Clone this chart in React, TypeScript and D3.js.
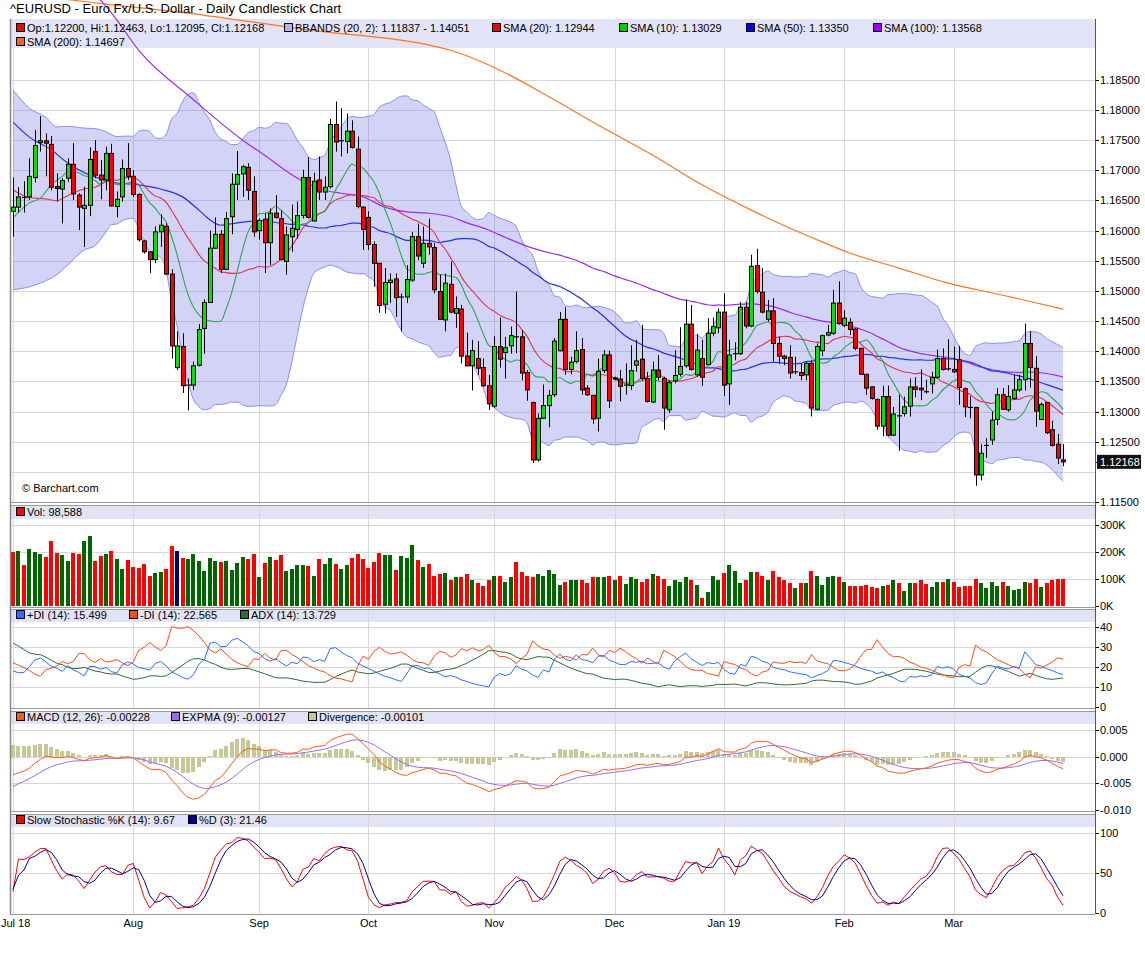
import React from "react";
import * as d3 from "d3";

// ---------- DATA ----------
const opens = [
1.1632,1.1639,1.1655,1.1656,1.1688,1.1746,1.1749,1.1743,1.1673,1.1669,
1.1687,1.1710,1.1659,1.1637,1.1642,1.1731,1.1692,1.1684,1.1728,1.1640,
1.1656,1.1703,1.1690,1.1660,1.1583,1.1565,1.1552,1.1598,1.1607,1.1528,
1.1373,1.1408,1.1344,1.1344,1.1377,1.1438,1.1481,1.1571,1.1594,1.1536,
1.1623,1.1677,1.1694,1.1705,1.1665,1.1600,1.1619,1.1580,1.1629,1.1620,
1.1549,1.1590,1.1602,1.1625,1.1688,1.1616,1.1684,1.1664,1.1673,1.1776,
1.1749,1.1748,1.1765,1.1735,1.1639,1.1622,1.1577,1.1546,1.1478,1.1514,
1.1520,1.1490,1.1490,1.1518,1.1590,1.1546,1.1579,1.1572,1.1499,1.1452,
1.1511,1.1463,1.1470,1.1392,1.1376,1.1388,1.1373,1.1343,1.1309,1.1408,
1.1398,1.1409,1.1424,1.1424,1.1365,1.1315,1.1220,1.1289,1.1310,1.1328,
1.1401,1.1453,1.1370,1.1383,1.1403,1.1339,1.1327,1.1289,1.1368,1.1394,
1.1356,1.1354,1.1344,1.1343,1.1377,1.1387,1.1355,1.1316,1.1369,1.1355,
1.1303,1.1351,1.1362,1.1376,1.1445,1.1361,1.1388,1.1378,1.1430,1.1439,
1.1465,1.1346,1.1396,1.1396,1.1473,1.1442,1.1542,1.1498,1.1453,1.1467,
1.1413,1.1392,1.1390,1.1366,1.1365,1.1361,1.1380,1.1304,1.1401,1.1427,
1.1430,1.1480,1.1443,1.1448,1.1437,1.1405,1.1362,1.1341,1.1320,1.1276,
1.1325,1.1261,1.1293,1.1297,1.1309,1.1341,1.1339,1.1333,1.1346,1.1357,
1.1388,1.1371,1.1370,1.1386,1.1338,1.1307,1.1307,1.1195,1.1244,1.1253,
1.1287,1.1328,1.1303,1.1322,1.1336,1.1353,1.1413,1.1372,1.1287,1.1315,
1.1270,1.1246,1.12200];
const highs = [
1.1688,1.1672,1.1682,1.1720,1.1767,1.1790,1.1761,1.1757,1.1695,1.1687,
1.1720,1.1745,1.1662,1.1673,1.1738,1.1750,1.1717,1.1739,1.1744,1.1665,
1.1718,1.1745,1.1700,1.1662,1.1585,1.1566,1.1607,1.1627,1.1612,1.1536,
1.1433,1.1430,1.1355,1.1383,1.1445,1.1486,1.1600,1.1622,1.1601,1.1631,
1.1695,1.1732,1.1709,1.1712,1.1690,1.1620,1.1629,1.1637,1.1659,1.1634,
1.1607,1.1643,1.1648,1.1701,1.1722,1.1696,1.1723,1.1690,1.1785,1.1814,
1.1803,1.1794,1.1783,1.1756,1.1640,1.1632,1.1582,1.1546,1.1538,1.1529,
1.1529,1.1496,1.1543,1.1598,1.1612,1.1607,1.1620,1.1579,1.1527,1.1529,
1.1549,1.1491,1.1477,1.1431,1.1419,1.1417,1.1388,1.1361,1.1425,1.1456,
1.1424,1.1441,1.1499,1.1435,1.1369,1.1317,1.1297,1.1345,1.1336,1.1422,
1.1465,1.1473,1.1391,1.1433,1.1422,1.1344,1.1328,1.1388,1.1402,1.1401,
1.1358,1.1369,1.1380,1.1410,1.1419,1.1444,1.1366,1.1383,1.1394,1.1358,
1.1352,1.1402,1.1440,1.1486,1.1477,1.1429,1.1419,1.1455,1.1456,1.1471,
1.1496,1.1419,1.1415,1.1482,1.1482,1.1560,1.1570,1.1538,1.1485,1.1488,
1.1424,1.1394,1.1410,1.1391,1.1380,1.1383,1.1386,1.1413,1.1428,1.1444,
1.1502,1.1516,1.1468,1.1455,1.1438,1.1405,1.1362,1.1342,1.1322,1.1343,
1.1343,1.1308,1.1328,1.1325,1.1355,1.1357,1.1370,1.1353,1.1366,1.1403,
1.1405,1.1420,1.1408,1.1409,1.1340,1.1326,1.1308,1.1246,1.1256,1.1300,
1.1339,1.1339,1.1344,1.1361,1.1361,1.1446,1.1433,1.1392,1.1315,1.1315,
1.1285,1.1263,1.12463];
const lows = [
1.1590,1.1630,1.1630,1.1651,1.1680,1.1731,1.1690,1.1667,1.1648,1.1612,
1.1681,1.1651,1.1601,1.1573,1.1624,1.1687,1.1652,1.1667,1.1640,1.1622,
1.1648,1.1684,1.1656,1.1582,1.1562,1.1530,1.1546,1.1573,1.1527,1.1388,
1.1369,1.1331,1.1302,1.1336,1.1375,1.1396,1.1480,1.1570,1.1530,1.1535,
1.1594,1.1651,1.1656,1.1651,1.1590,1.1585,1.1530,1.1543,1.1620,1.1551,
1.1527,1.1565,1.1587,1.1620,1.1620,1.1615,1.1651,1.1651,1.1670,1.1731,
1.1723,1.1728,1.1736,1.1637,1.1568,1.1568,1.1507,1.1464,1.1463,1.1480,
1.1457,1.1433,1.1480,1.1515,1.1551,1.1538,1.1560,1.1496,1.1452,1.1433,
1.1463,1.1439,1.1380,1.1375,1.1335,1.1361,1.1341,1.1303,1.1306,1.1373,
1.1355,1.1396,1.1397,1.1352,1.1318,1.1215,1.1217,1.1288,1.1274,1.1324,
1.1400,1.1361,1.1362,1.1380,1.1328,1.1326,1.1280,1.1267,1.1364,1.1306,
1.1352,1.1317,1.1328,1.1336,1.1366,1.1352,1.1315,1.1314,1.1352,1.1270,
1.1298,1.1347,1.1358,1.1373,1.1368,1.1358,1.1343,1.1377,1.1425,1.1430,
1.1326,1.1311,1.1385,1.1394,1.1438,1.1440,1.1496,1.1463,1.1449,1.1383,
1.1379,1.1377,1.1355,1.1362,1.1352,1.1352,1.1292,1.1302,1.1392,1.1425,
1.1427,1.1444,1.1440,1.1427,1.1402,1.1361,1.1328,1.1320,1.1270,1.1259,
1.1259,1.1260,1.1235,1.1292,1.1292,1.1324,1.1319,1.1330,1.1330,1.1355,
1.1368,1.1368,1.1364,1.1311,1.1291,1.1289,1.1177,1.1186,1.1223,1.1245,
1.1278,1.1303,1.1300,1.1320,1.1333,1.1335,1.1340,1.1275,1.1286,1.1263,
1.1242,1.1213,1.12095];
const closes = [
1.1639,1.1656,1.1655,1.1690,1.1741,1.1749,1.1745,1.1672,1.1670,1.1683,
1.1710,1.1661,1.1639,1.1642,1.1718,1.1692,1.1684,1.1728,1.1641,1.1652,
1.1703,1.1690,1.1660,1.1585,1.1565,1.1552,1.1598,1.1609,1.1528,1.1409,
1.1409,1.1343,1.1344,1.1376,1.1436,1.1481,1.1571,1.1594,1.1536,1.1620,
1.1677,1.1693,1.1706,1.1667,1.1598,1.1617,1.1580,1.1629,1.1622,1.1552,
1.1593,1.1604,1.1625,1.1688,1.1622,1.1682,1.1664,1.1672,1.1776,1.1747,
1.1749,1.1765,1.1738,1.1640,1.1602,1.1577,1.1546,1.1476,1.1514,1.1518,
1.1489,1.1490,1.1519,1.1590,1.1558,1.1579,1.1573,1.1502,1.1453,1.1513,
1.1465,1.1471,1.1392,1.1376,1.1401,1.1372,1.1343,1.1313,1.1408,1.1387,
1.1406,1.1426,1.1424,1.1364,1.1336,1.1220,1.1289,1.1310,1.1327,1.1417,
1.1453,1.1370,1.1382,1.1401,1.1336,1.1328,1.1288,1.1367,1.1394,1.1318,
1.1354,1.1342,1.1344,1.1368,1.1384,1.1355,1.1317,1.1369,1.1357,1.1306,
1.1348,1.1360,1.1375,1.1445,1.1370,1.1402,1.1357,1.1430,1.1441,1.1465,
1.1344,1.1394,1.1396,1.1473,1.1442,1.1541,1.1499,1.1465,1.1467,1.1413,
1.1392,1.1388,1.1364,1.1366,1.1360,1.1380,1.1306,1.1408,1.1426,1.1431,
1.1480,1.1446,1.1455,1.1436,1.1405,1.1362,1.1339,1.1322,1.1276,1.1325,
1.1261,1.1296,1.1293,1.1308,1.1341,1.1337,1.1336,1.1333,1.1357,1.1388,
1.1370,1.1371,1.1366,1.1340,1.1308,1.1307,1.1195,1.1231,1.1244,1.1286,
1.1328,1.1304,1.1325,1.1336,1.1353,1.1413,1.1373,1.1301,1.1312,1.1265,
1.1244,1.1223,1.12168];
// volume in thousands
const volumesK = [
199,202,150,210,199,191,180,240,195,187,
165,195,191,240,259,165,184,191,202,172,
135,169,142,139,154,109,120,124,135,221,
202,176,172,191,165,127,176,165,161,165,
131,157,180,172,191,105,157,180,169,187,
127,135,150,150,146,112,172,154,176,154,
135,150,176,191,172,139,161,195,187,187,
131,184,176,225,169,142,154,112,116,120,
97,105,105,116,94,86,75,97,112,109,
90,105,161,124,109,105,116,112,131,116,
79,90,97,97,97,86,105,105,105,109,
97,109,82,105,101,90,101,116,109,101,
75,94,90,105,97,79,30,52,112,94,
120,150,127,86,97,124,124,112,94,127,
105,97,86,67,86,86,127,112,79,105,
109,105,90,75,75,75,79,71,67,75,
79,97,86,56,86,86,94,82,71,90,
90,101,90,71,75,75,101,86,67,90,
75,90,75,60,64,90,86,101,71,86,
94,101,98.6];

// overlay values read where the chart needs history from before its first bar
const bbEarlyIdx = [0, 3, 6, 8, 10, 13, 15, 17, 18];
const bbUpperEarly = [1.1833, 1.1803, 1.1788, 1.1772, 1.1773, 1.1770, 1.1769, 1.1764, 1.1759];
const bbLowerEarly = [1.1502, 1.1507, 1.1517, 1.1527, 1.1543, 1.1568, 1.1575, 1.1598, 1.1610];
const sma10EarlyIdx = [0, 3, 5, 7];
const sma10Early = [1.1621, 1.1646, 1.1654, 1.1676];
const sma50EarlyIdx = [0, 3, 7, 10, 14, 17, 19, 23, 27, 31, 34, 36, 38, 41, 46];
const sma50Early = [1.1780, 1.1755, 1.1734, 1.1712, 1.1692, 1.1684, 1.1679, 1.1676, 1.1669, 1.1656, 1.1634, 1.1618, 1.1609, 1.1613, 1.1616];
const sma100EarlyIdx = [0, 8, 16, 18, 23, 33, 42, 46, 52, 57, 60, 64, 68, 72, 76, 80, 83, 87, 89, 95];
const sma100Early = [1.2060, 1.2020, 1.1982, 1.1961, 1.1899, 1.1817, 1.1750, 1.1725, 1.1687, 1.1667, 1.1662, 1.1656, 1.1639, 1.1631, 1.1629, 1.1623, 1.1613, 1.1601, 1.1593, 1.1571];
const sma200Idx = [0, 11, 35, 53, 80, 89, 98, 107, 117, 126, 135, 147, 153, 162, 171, 181, 192];
const sma200Vals = [1.1996, 1.1982, 1.1957, 1.1934, 1.1899, 1.1866, 1.1822, 1.1775, 1.1725, 1.1676, 1.1634, 1.1585, 1.1563, 1.1538, 1.1513, 1.1493, 1.1470];
const macdStart = { ema12: 1.1640, ema26: 1.1674, signal: -0.0056 };
const dmiStart = { atr: 0.0065, plusDI: 18, minusDI: 22, adx: 32 };
const stochStart = { k: 27, d: 30 };

const holidays = ["2018-12-25", "2019-01-01"];
const monthLabels = ["Jul 18", "Aug", "Sep", "Oct", "Nov", "Dec", "Jan 19", "Feb", "Mar"];
const priceTicks = [1.185, 1.18, 1.175, 1.17, 1.165, 1.16, 1.155, 1.15, 1.145, 1.14, 1.135, 1.13, 1.125, 1.12, 1.115];
const volTicks = [300, 200, 100, 0];
const dmiTicks = [40, 30, 20, 10, 0];
const macdTicks = [0.005, 0, -0.005, -0.01];
const stochTicks = [100, 50, 0];

const title = "^EURUSD - Euro Fx/U.S. Dollar - Daily Candlestick Chart";
const mainLegend = [
  { x: 16, row: 0, color: "#ff0000", text: "Op:1.12200, Hi:1.12463, Lo:1.12095, Cl:1.12168" },
  { x: 284, row: 0, color: "#b4b4f0", text: "BBANDS (20, 2): 1.11837 - 1.14051" },
  { x: 492, row: 0, color: "#ff0000", text: "SMA (20): 1.12944" },
  { x: 619, row: 0, color: "#00cc00", text: "SMA (10): 1.13029" },
  { x: 746, row: 0, color: "#0000ff", text: "SMA (50): 1.13350" },
  { x: 873, row: 0, color: "#9900ff", text: "SMA (100): 1.13568" },
  { x: 16, row: 1, color: "#ff6600", text: "SMA (200): 1.14697" },
];
const volLegend = [{ x: 16, color: "#ff0000", text: "Vol: 98,588" }];
const dmiLegend = [
  { x: 16, color: "#2a6fff", text: "+DI (14): 15.499" },
  { x: 129, color: "#ff4a1a", text: "-DI (14): 22.565" },
  { x: 240, color: "#2f6b2f", text: "ADX (14): 13.729" },
];
const macdLegend = [
  { x: 16, color: "#ff5a14", text: "MACD (12, 26): -0.00228" },
  { x: 171, color: "#9a6cf0", text: "EXPMA (9): -0.00127" },
  { x: 308, color: "#c8c896", text: "Divergence: -0.00101" },
];
const stochLegend = [
  { x: 16, color: "#ff0000", text: "Slow Stochastic %K (14): 9.67" },
  { x: 188, color: "#000099", text: "%D (3): 21.46" },
];

// ---------- layout ----------
const W = 1145, H = 954;
const L = 10, R = 1095;
const FONT = "'Liberation Sans', Arial, Helvetica, sans-serif";

function smaAt(arr: number[], n: number, i: number) {
  let s = 0;
  for (let k = i - n + 1; k <= i; k++) s += arr[k];
  return s / n;
}

export default function App() {
  const n = closes.length;
  const x = d3.scaleLinear().domain([0, n - 1]).range([13, 1063]);
  const yP = d3.scaleLinear().domain([1.13, 1.18]).range([411.65, 110]);
  const yV = d3.scaleLinear().domain([0, 300]).range([606, 524.5]);
  const yD = d3.scaleLinear().domain([0, 40]).range([707, 627]);
  const yM = d3.scaleLinear().domain([-0.01, 0.005]).range([810, 730]);
  const yS = d3.scaleLinear().domain([0, 100]).range([913, 833]);

  // dates and month ticks
  const fmt = d3.timeFormat("%Y-%m-%d");
  const dates: Date[] = [];
  for (let d = new Date(2018, 6, 2); dates.length < n; d = d3.timeDay.offset(d, 1)) {
    const wd = d.getDay();
    if (wd === 0 || wd === 6 || holidays.includes(fmt(d))) continue;
    dates.push(d);
  }
  const monthIdx: number[] = [];
  dates.forEach((d, i) => {
    if (i === 0 || d.getMonth() !== dates[i - 1].getMonth()) monthIdx.push(i);
  });

  // overlays
  type P = [number, number];
  const bbU: P[] = bbEarlyIdx.map((k, j) => [k, bbUpperEarly[j]]);
  const bbL: P[] = bbEarlyIdx.map((k, j) => [k, bbLowerEarly[j]]);
  const s20: P[] = bbEarlyIdx.map((k, j) => [k, (bbUpperEarly[j] + bbLowerEarly[j]) / 2]);
  for (let i = 19; i < n; i++) {
    const m = smaAt(closes, 20, i);
    let v = 0;
    for (let k = i - 19; k <= i; k++) v += (closes[k] - m) ** 2;
    const sd = Math.sqrt(v / 20);
    bbU.push([i, m + 2 * sd]);
    bbL.push([i, m - 2 * sd]);
    s20.push([i, m]);
  }
  const s10: P[] = sma10EarlyIdx.map((k, j) => [k, sma10Early[j]]);
  for (let i = 9; i < n; i++) s10.push([i, smaAt(closes, 10, i)]);
  const s50: P[] = sma50EarlyIdx.map((k, j) => [k, sma50Early[j]]);
  for (let i = 49; i < n; i++) s50.push([i, smaAt(closes, 50, i)]);
  const s100: P[] = sma100EarlyIdx.map((k, j) => [k, sma100Early[j]]);
  for (let i = 99; i < n; i++) s100.push([i, smaAt(closes, 100, i)]);
  const s200: P[] = sma200Idx.map((k, j) => [k, sma200Vals[j]]);

  const lineP = d3.line<P>().x((d) => x(d[0])).y((d) => yP(d[1])).curve(d3.curveMonotoneX);
  const bandArea = d3
    .area<[number, number, number]>()
    .x((d) => x(d[0]))
    .y0((d) => yP(d[2]))
    .y1((d) => yP(d[1]))
    .curve(d3.curveMonotoneX);
  const band = bbU.map((d, j) => [d[0], d[1], bbL[j][1]] as [number, number, number]);

  // DMI
  const pdi: number[] = [], mdi: number[] = [], adx: number[] = [];
  {
    let atr = dmiStart.atr;
    let pdm = (atr * dmiStart.plusDI) / 100;
    let mdm = (atr * dmiStart.minusDI) / 100;
    let a = dmiStart.adx;
    for (let i = 0; i < n; i++) {
      if (i > 0) {
        const up = highs[i] - highs[i - 1];
        const dn = lows[i - 1] - lows[i];
        const p = up > dn && up > 0 ? up : 0;
        const m = dn > up && dn > 0 ? dn : 0;
        const tr = Math.max(highs[i] - lows[i], Math.abs(highs[i] - closes[i - 1]), Math.abs(lows[i] - closes[i - 1]));
        atr = (atr * 13 + tr) / 14;
        pdm = (pdm * 13 + p) / 14;
        mdm = (mdm * 13 + m) / 14;
      }
      const pi = (100 * pdm) / atr, mi = (100 * mdm) / atr;
      const dx = (100 * Math.abs(pi - mi)) / (pi + mi || 1);
      if (i > 0) a = (a * 13 + dx) / 14;
      pdi.push(pi); mdi.push(mi); adx.push(a);
    }
  }
  // MACD
  const macd: number[] = [], sig: number[] = [], div: number[] = [];
  {
    let e12 = macdStart.ema12, e26 = macdStart.ema26, s = macdStart.signal;
    for (let i = 0; i < n; i++) {
      if (i > 0) {
        e12 += (2 / 13) * (closes[i] - e12);
        e26 += (2 / 27) * (closes[i] - e26);
      }
      const m = e12 - e26;
      if (i > 0) s += 0.2 * (m - s);
      macd.push(m); sig.push(s); div.push(m - s);
    }
  }
  const fastK: number[] = [], slowK: number[] = [], dK: number[] = [];
  for (let i = 0; i < n; i++) {
    const a = Math.max(0, i - 13);
    const hh = d3.max(highs.slice(a, i + 1))!, ll = d3.min(lows.slice(a, i + 1))!;
    fastK.push(hh > ll ? (100 * (closes[i] - ll)) / (hh - ll) : stochStart.k);
    if (i === 0) {
      slowK.push(stochStart.k);
      dK.push(stochStart.d);
      continue;
    }
    slowK.push(d3.mean(fastK.slice(Math.max(1, i - 2), i + 1))!);
    dK.push(d3.mean(slowK.slice(Math.max(0, i - 2), i + 1))!);
  }

  const seriesLine = (vals: number[], ys: d3.ScaleLinear<number, number>) =>
    d3.line<number>().x((_, i) => x(i)).y((v) => ys(v))(vals) || "";

  const idx = d3.range(n);
  const grid = "#d8d8d8";
  const lav = "#e3e3f7";

  const legendRow = (items: { x: number; color: string; text: string }[], yc: number) =>
    items.map((it, k) => (
      <g key={k}>
        <rect x={it.x + 0.5} y={yc - 4.5} width={8} height={8} fill={it.color} stroke="#000" strokeWidth={1} />
        <text x={it.x + 11} y={yc + 4} fontSize={11} fill="#000">{it.text}</text>
      </g>
    ));

  const hGrid = (ys: number[]) =>
    ys.map((yy, k) => <line key={k} x1={L} x2={R} y1={Math.round(yy) + 0.5} y2={Math.round(yy) + 0.5} stroke={grid} />);
  const vGrid = (y1: number, y2: number) =>
    monthIdx.map((i, k) => <line key={k} x1={Math.round(x(i)) + 0.5} x2={Math.round(x(i)) + 0.5} y1={y1} y2={y2} stroke={grid} />);
  const axisLabels = (vals: number[], ys: d3.ScaleLinear<number, number>, f: (v: number) => string, skip?: (v: number) => boolean) =>
    vals.filter((v) => !(skip && skip(v))).map((v, k) => (
      <g key={k}>
        <line x1={R} x2={R + 4} y1={Math.round(ys(v)) + 0.5} y2={Math.round(ys(v)) + 0.5} stroke="#000" />
        <text x={R + 5} y={ys(v) + 4} fontSize={11} fill="#000">{f(v)}</text>
      </g>
    ));

  const lastClose = closes[n - 1];
  const yLast = yP(lastClose);

  const panels = [
    { top: 505, hb: 519, bottom: 607 },
    { top: 609, hb: 622, bottom: 708 },
    { top: 711, hb: 724, bottom: 811 },
    { top: 814, hb: 827, bottom: 914 },
  ];

  return (
    <svg width={W} height={H} style={{ position: "absolute", left: 0, top: 0, background: "#fff" }} fontFamily={FONT}>
      <defs>
        <clipPath id="mainClip"><rect x={L} y={0} width={R - L} height={502} /></clipPath>
        <clipPath id="dmiClip"><rect x={L} y={622} width={R - L} height={86} /></clipPath>
        <clipPath id="macdClip"><rect x={L} y={724} width={R - L} height={87} /></clipPath>
        <clipPath id="stochClip"><rect x={L} y={827} width={R - L} height={87} /></clipPath>
      </defs>
      <rect x={0} y={0} width={W} height={H} fill="#fff" />

      {/* ===== main price panel ===== */}
      {hGrid(priceTicks.map((v) => yP(v)))}
      {vGrid(48, 502)}
      <rect x={L} y={19} width={R - L} height={29} fill={lav} />
      <g clipPath="url(#mainClip)">
        <path d={bandArea(band) || ""} fill="#6e6ee6" fillOpacity={0.3} />
        <path d={lineP(bbU) || ""} fill="none" stroke="#8c8cf5" strokeWidth={1} />
        <path d={lineP(bbL) || ""} fill="none" stroke="#8c8cf5" strokeWidth={1} />
        <path d={lineP(s200) || ""} fill="none" stroke="#ff7420" strokeWidth={1.2} />
        <path d={lineP(s100) || ""} fill="none" stroke="#9a2cf5" strokeWidth={1.2} />
        <path d={lineP(s50) || ""} fill="none" stroke="#2430f0" strokeWidth={1.2} />
        <path d={lineP(s20) || ""} fill="none" stroke="#e4304e" strokeWidth={1.1} />
        <path d={lineP(s10) || ""} fill="none" stroke="#2aa84a" strokeWidth={1.1} />
        {idx.map((i) => {
          const cx = Math.round(x(i)) + 0.5;
          const o = opens[i], c = closes[i];
          const yo = yP(o), yc = yP(c);
          const top = Math.min(yo, yc), h = Math.abs(yo - yc);
          return (
            <g key={i}>
              <line x1={cx} x2={cx} y1={yP(highs[i])} y2={yP(lows[i])} stroke="#000" strokeWidth={1} />
              {o === c ? (
                <line x1={cx - 2.5} x2={cx + 2.5} y1={yc} y2={yc} stroke="#000" strokeWidth={1.2} />
              ) : (
                <rect x={cx - 2} y={top} width={4} height={Math.max(h, 1)} fill={c > o ? "#00e600" : "#ff0000"} stroke="#000" strokeWidth={1} />
              )}
            </g>
          );
        })}
      </g>
      {legendRow(mainLegend.filter((d) => d.row === 0), 28)}
      {legendRow(mainLegend.filter((d) => d.row === 1), 42)}
      <text x={10} y={13} fontSize={13} fill="#000">{title}</text>
      <text x={22} y={492} fontSize={11} fill="#000">© Barchart.com</text>
      {axisLabels(priceTicks, yP, (v) => v.toFixed(5), (v) => Math.abs(yP(v) - yLast) < 13)}
      <line x1={R} x2={R + 4} y1={Math.round(yLast) + 0.5} y2={Math.round(yLast) + 0.5} stroke="#000" />
      <rect x={R + 2} y={yLast - 7} width={44} height={14} fill="#111" />
      <text x={R + 5} y={yLast + 4} fontSize={11} fill="#fff">{lastClose.toFixed(5)}</text>
      <line x1={L} x2={R} y1={502.5} y2={502.5} stroke="#999" />

      {/* ===== sub panel frames ===== */}
      {panels.map((p, k) => (
        <g key={k}>
          <rect x={L} y={p.top} width={R - L} height={p.hb - p.top} fill={lav} />
          {vGrid(p.top, p.bottom)}
          <line x1={L} x2={R} y1={p.top + 0.5} y2={p.top + 0.5} stroke="#999" />
          <line x1={L} x2={R} y1={p.bottom + 0.5} y2={p.bottom + 0.5} stroke="#999" />
        </g>
      ))}

      {/* volume */}
      {hGrid([300, 200, 100].map((v) => yV(v)))}
      {idx.map((i) => {
        const dir = i === 0 ? -1 : Math.sign(closes[i] - closes[i - 1]);
        const col = dir > 0 ? "#006600" : dir < 0 ? "#ff0000" : "#000066";
        const cx = Math.round(x(i));
        return <rect key={i} x={cx - 2} y={yV(volumesK[i])} width={4} height={yV(0) - yV(volumesK[i])} fill={col} shapeRendering="crispEdges" />;
      })}
      {legendRow(volLegend, 512)}
      {axisLabels(volTicks, yV, (v) => `${v}K`)}

      {/* DMI */}
      {hGrid([40, 30, 20, 10].map((v) => yD(v)))}
      <g clipPath="url(#dmiClip)" fill="none" strokeWidth={1}>
        <path d={seriesLine(adx, yD)} stroke="#2f6b2f" />
        <path d={seriesLine(mdi, yD)} stroke="#ff4a1a" />
        <path d={seriesLine(pdi, yD)} stroke="#2a6fff" />
      </g>
      {legendRow(dmiLegend, 615)}
      {axisLabels(dmiTicks, yD, (v) => `${v}`)}

      {/* MACD */}
      {hGrid([0.005, 0, -0.005].map((v) => yM(v)))}
      <g clipPath="url(#macdClip)">
        {idx.map((i) => {
          const cx = Math.round(x(i));
          const y0 = yM(0), y1 = yM(div[i]);
          return <rect key={i} x={cx - 2} y={Math.min(y0, y1)} width={4} height={Math.abs(y1 - y0)} fill="#c8c896" shapeRendering="crispEdges" />;
        })}
        <path d={seriesLine(sig, yM)} fill="none" stroke="#9a6cf0" strokeWidth={1} />
        <path d={seriesLine(macd, yM)} fill="none" stroke="#ff5a14" strokeWidth={1} />
      </g>
      {legendRow(macdLegend, 717)}
      {axisLabels(macdTicks, yM, (v) => v.toFixed(3))}

      {/* Stochastic */}
      {hGrid([100, 50].map((v) => yS(v)))}
      <g clipPath="url(#stochClip)" fill="none" strokeWidth={1}>
        <path d={seriesLine(slowK, yS)} stroke="#ff0000" />
        <path d={seriesLine(dK, yS)} stroke="#000099" />
      </g>
      {legendRow(stochLegend, 820)}
      {axisLabels(stochTicks, yS, (v) => `${v}`)}

      {/* frame */}
      <line x1={L + 0.5} x2={L + 0.5} y1={19} y2={914} stroke="#888" strokeWidth={1.5} />
      <line x1={R + 0.5} x2={R + 0.5} y1={19} y2={914} stroke="#555" />

      {/* x axis labels */}
      {monthIdx.map((i, k) =>
        k === 0 ? (
          <text key={k} x={1} y={927} fontSize={11} textAnchor="start" fill="#000">{monthLabels[k]}</text>
        ) : (
          <text key={k} x={x(i)} y={927} fontSize={11} textAnchor="middle" fill="#000">{monthLabels[k]}</text>
        )
      )}
    </svg>
  );
}
